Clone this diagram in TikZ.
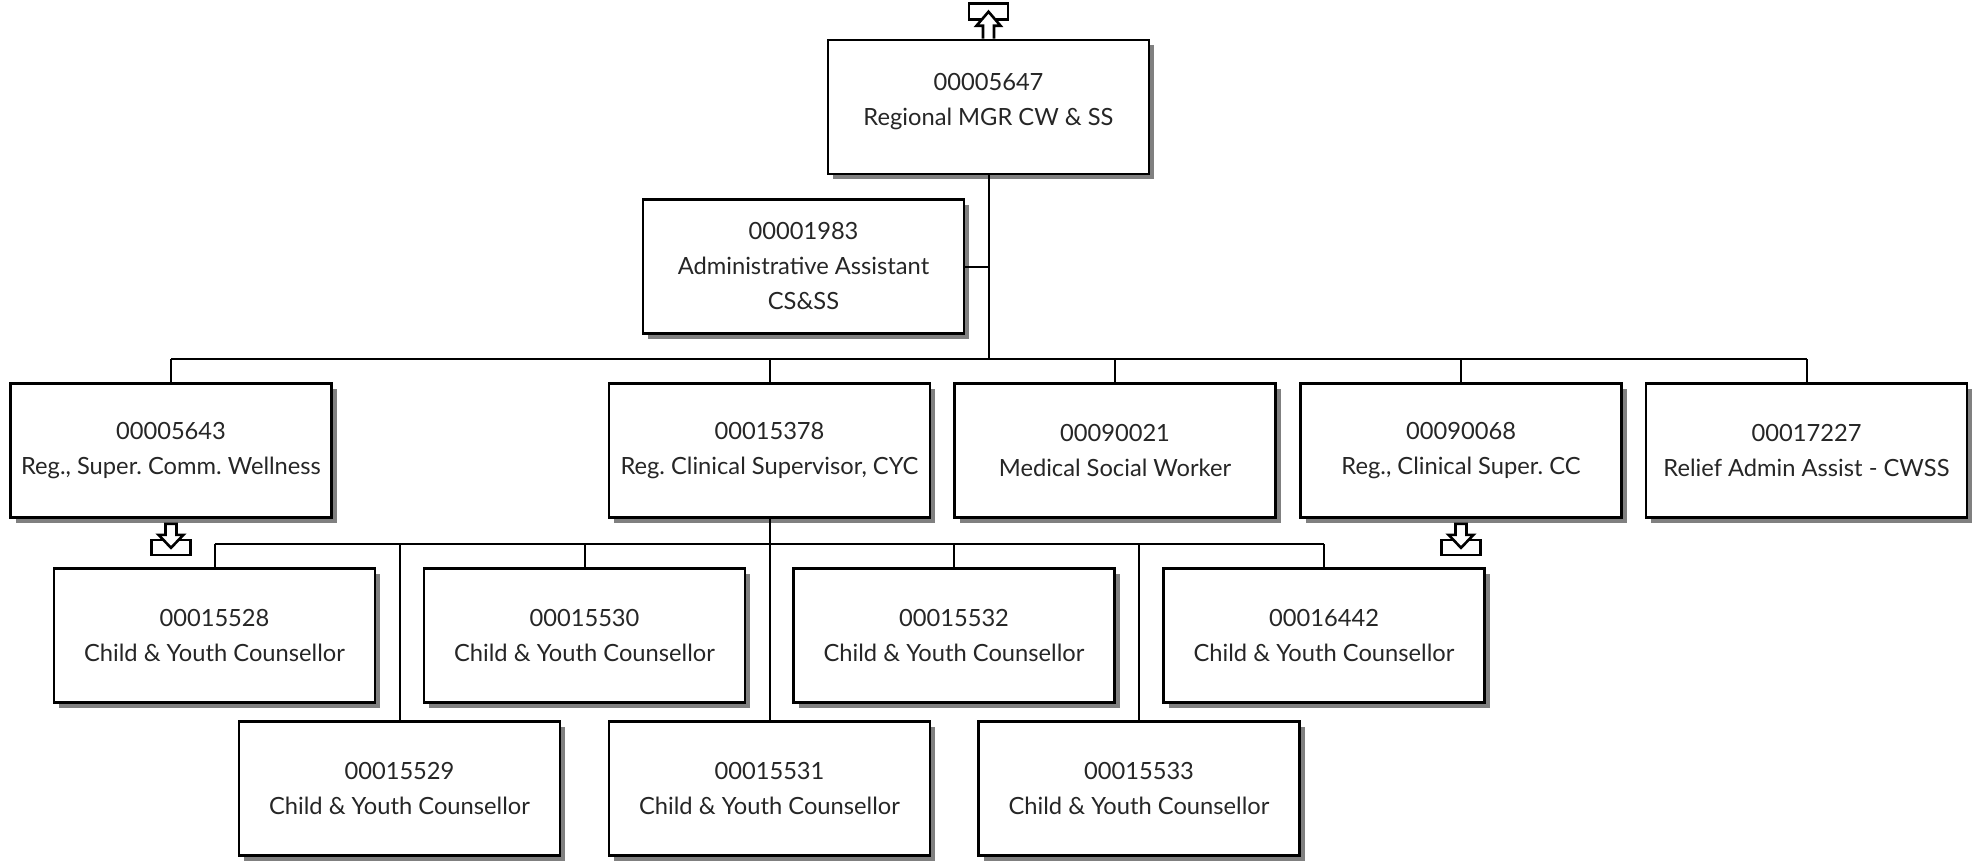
\documentclass[tikz,border=0pt]{standalone}
\usepackage{fontspec}
\setmainfont{Lato}
\usetikzlibrary{shadows}
\frenchspacing
\begin{document}
\begin{tikzpicture}[x=1pt,y=-1pt,
  box/.style={draw, line width=2.6pt, fill=white, minimum width=321pt, minimum height=134pt,
    inner sep=0pt, align=center, text=black!85, font=\fontsize{23.7}{35}\selectfont,
    drop shadow={shadow xshift=5pt, shadow yshift=-5pt, fill=black!50, opacity=1}},
  txt/.style={inner sep=0pt, align=center, text=black!85, font=\fontsize{23.7}{35}\selectfont},
  link/.style={draw, line width=2pt},
  arr/.style={draw, line width=2.6pt, fill=white, line join=miter}]
\useasboundingbox (0,0) rectangle (1979,860);

% nodes
\node[box] (top) at (988.5,107) {};
\node[txt] (toptxt) at (988.5,101.5) {00005647\\Regional MGR CW \& SS};
\node[box] (admin) at (803.5,266.5) {00001983\\Administrative Assistant\\CS\&SS};

\node[box] (a) at (171,450.5) {00005643\\Reg., Super. Comm. Wellness};
\node[box] (b) at (769.5,450.5) {00015378\\Reg. Clinical Supervisor, CYC};
\node[box] (c) at (1115,450.5) {00090021\\Medical Social Worker};
\node[box] (d) at (1461,450.5) {00090068\\Reg., Clinical Super. CC};
\node[box] (e) at (1806.5,450.5) {00017227\\Relief Admin Assist - CWSS};

\node[box] (u1) at (214.5,635.5) {00015528\\Child \& Youth Counsellor};
\node[box] (u2) at (584.5,635.5) {00015530\\Child \& Youth Counsellor};
\node[box] (u3) at (954,635.5) {00015532\\Child \& Youth Counsellor};
\node[box] (u4) at (1324,635.5) {00016442\\Child \& Youth Counsellor};

\node[box] (l1) at (399.5,788.5) {00015529\\Child \& Youth Counsellor};
\node[box] (l2) at (769.5,788.5) {00015531\\Child \& Youth Counsellor};
\node[box] (l3) at (1139,788.5) {00015533\\Child \& Youth Counsellor};

% junctions
\coordinate (j1) at (988.5,359);
\coordinate (j2) at (769.5,544);

% connectors level 1
\draw[link] (top.south) -- (j1);
\draw[link] (admin.east) -- (admin.east -| j1);
\draw[link] (a.north |- j1) -- (e.north |- j1);
\foreach \n in {a,b,c,d,e} \draw[link] (\n.north) -- (\n.north |- j1);

% connectors level 2
\draw[link] (b.south) -- (l2.north);
\draw[link] (u1.north |- j2) -- (u4.north |- j2);
\foreach \n in {u1,u2,u3,u4,l1,l3} \draw[link] (\n.north) -- (\n.north |- j2);

% off-page arrows
\draw[arr] ([shift={(-19.5,-35)}]top.north) rectangle ([shift={(19.5,-19)}]top.north);
\draw[arr] ([shift={(-5.5,0)}]top.north) -- ([shift={(-5.5,-13)}]top.north) -- ([shift={(-12,-13)}]top.north)
  -- ([shift={(0,-27)}]top.north) -- ([shift={(12,-13)}]top.north) -- ([shift={(5.5,-13)}]top.north)
  -- ([shift={(5.5,0)}]top.north);

\foreach \n in {a,d} {
  \draw[arr] ([shift={(-19.5,21)}]\n.south) rectangle ([shift={(19.5,36)}]\n.south);
  \draw[arr] ([shift={(-5.5,5)}]\n.south) -- ([shift={(-5.5,16)}]\n.south) -- ([shift={(-12.5,16)}]\n.south)
    -- ([shift={(0,29)}]\n.south) -- ([shift={(12.5,16)}]\n.south) -- ([shift={(5.5,16)}]\n.south)
    -- ([shift={(5.5,5)}]\n.south) -- cycle;
}
\end{tikzpicture}
\end{document}
